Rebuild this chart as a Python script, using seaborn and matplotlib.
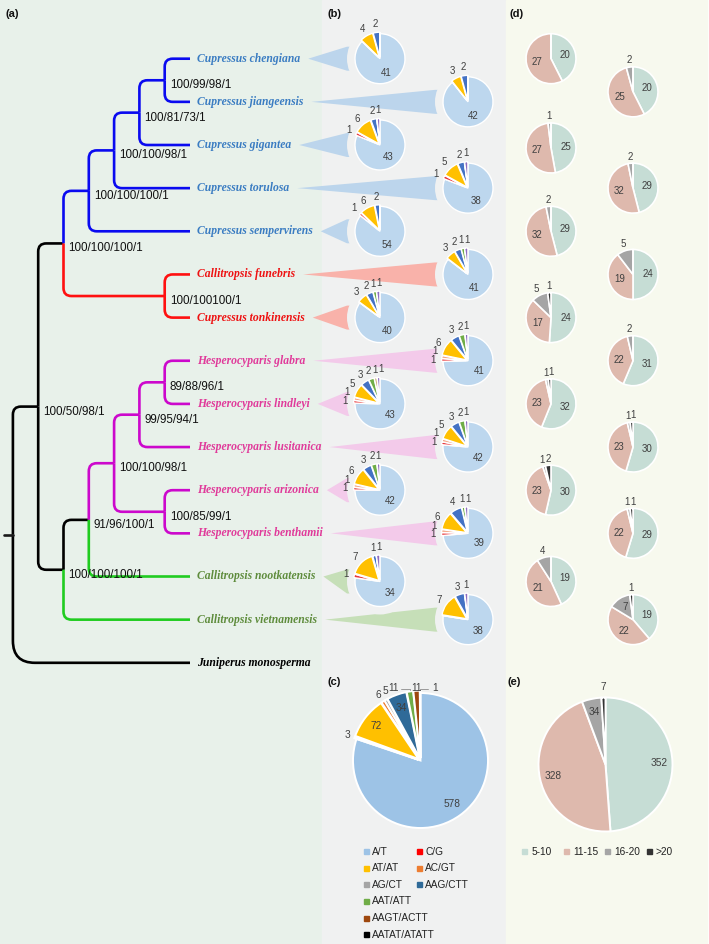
import numpy as np
import matplotlib
matplotlib.use("Agg")
import matplotlib.pyplot as plt
import seaborn as sns
from matplotlib.path import Path
from matplotlib.patches import PathPatch, Polygon, Circle, Rectangle

sns.set_theme(style="white")
plt.rcParams['font.family'] = ['Liberation Sans', 'DejaVu Sans']

# ---------------------------------------------------------------- data
species = ["Cupressus chengiana", "Cupressus jiangeensis", "Cupressus gigantea",
           "Cupressus torulosa", "Cupressus sempervirens", "Callitropsis funebris",
           "Cupressus tonkinensis", "Hesperocyparis glabra", "Hesperocyparis lindleyi",
           "Hesperocyparis lusitanica", "Hesperocyparis arizonica",
           "Hesperocyparis benthamii", "Callitropsis nootkatensis",
           "Callitropsis vietnamensis", "Juniperus monosperma"]
species_group = ["cup"] * 5 + ["red"] * 2 + ["hes"] * 5 + ["cal"] * 2 + ["k"]

# tree: (support, branch group, child, child); leaves are species names
tree = ("", "k",
        ("100/50/98/1", "k",
         ("100/100/100/1", "k",
          ("100/100/100/1", "cup",
           ("100/100/98/1", "cup",
            ("100/81/73/1", "cup",
             ("100/99/98/1", "cup", "Cupressus chengiana", "Cupressus jiangeensis"),
             "Cupressus gigantea"),
            "Cupressus torulosa"),
           "Cupressus sempervirens"),
          ("100/100100/1", "red", "Callitropsis funebris", "Cupressus tonkinensis")),
         ("100/100/100/1", "k",
          ("91/96/100/1", "k",
           ("100/100/98/1", "hes",
            ("99/95/94/1", "hes",
             ("89/88/96/1", "hes", "Hesperocyparis glabra", "Hesperocyparis lindleyi"),
             "Hesperocyparis lusitanica"),
            ("100/85/99/1", "hes", "Hesperocyparis arizonica", "Hesperocyparis benthamii")),
           "Callitropsis nootkatensis"),
          "Callitropsis vietnamensis")),
        "Juniperus monosperma")

# (b) SSR motif counts per species
motif_b = ["A/T", "C/G", "AC/GT", "AT/AT", "AAG/CTT", "AAT/ATT", "AAGT/ACTT", "AATAT/ATATT"]
ssr_AT = [41, 42, 43, 38, 54, 41, 40, 41, 43, 42, 42, 39, 34, 38]
ssr_CG = [0, 0, 1, 1, 1, 0, 0, 1, 1, 1, 1, 1, 1, 0]
ssr_ACGT = [0, 0, 0, 0, 0, 0, 0, 1, 1, 1, 1, 1, 0, 0]
ssr_ATAT = [4, 3, 6, 5, 6, 3, 3, 6, 5, 5, 6, 6, 7, 7]
ssr_AAG = [2, 2, 2, 2, 2, 2, 2, 3, 3, 3, 3, 4, 1, 3]
ssr_AAT = [0, 0, 0, 0, 0, 1, 1, 2, 2, 2, 2, 1, 0, 0]
ssr_AAGT = [0, 0, 0, 0, 0, 0, 0, 0, 1, 0, 0, 0, 0, 0]
ssr_AATAT = [0, 0, 1, 1, 0, 1, 1, 1, 1, 1, 1, 1, 1, 1]

# (c) totals
motif_c = ["A/T", "C/G", "AT/AT", "AC/GT", "AG/CT", "AAG/CTT", "AAT/ATT", "AAGT/ACTT", "AATAT/ATATT"]
total_c = [578, 3, 72, 6, 5, 34, 11, 11, 1]

# (d) length classes, pies in reading order (left, right, left, ...)
len_classes = ["5-10", "11-15", "16-20", ">20"]
len_5_10 = [20, 20, 25, 29, 29, 24, 24, 31, 32, 30, 30, 29, 19, 19]
len_11_15 = [27, 25, 27, 32, 32, 19, 17, 22, 23, 23, 23, 22, 21, 22]
len_16_20 = [0, 2, 1, 2, 2, 5, 5, 2, 1, 1, 1, 1, 4, 7]
len_gt20 = [0, 0, 0, 0, 0, 0, 1, 0, 1, 1, 2, 1, 0, 1]

# (e) totals
total_e = [352, 328, 34, 7]

# ---------------------------------------------------------------- style
W, H, DPI = 709, 944, 100
BG_A, BG_B, BG_D = "#E8F1EA", "#F0F1F1", "#F7F9EE"
branch_col = {"k": "#000000", "cup": "#0A0AF0", "red": "#FF1010", "hes": "#CC08CC", "cal": "#20CC20"}
text_col = {"k": "#000000", "cup": "#3A7CC2", "red": "#EE1111", "hes": "#E03A9A", "cal": "#5E8C3C"}
funnel_col = {"cup": "#BCD5EC", "red": "#F9B2AA", "hes": "#F3CAEA", "cal": "#C6DFB8"}
cols_b = ["#BDD7EE", "#E8383D", "#F4A582", "#FFC000", "#4472C4", "#70AD47", "#C9A66B", "#8E6CC0"]
cols_c = ["#9DC3E6", "#FF0000", "#FFC000", "#ED7D31", "#A5A5A5", "#2F6A98", "#70AD47", "#9E480E", "#000000"]
cols_d = ["#C6DDD5", "#DEB9AD", "#A5A5A5", "#333333"]
LBL = "#404040"
FS_PIE = 7.0
FS_BIG = 7.3

fig = plt.figure(figsize=(W / DPI, H / DPI), dpi=DPI)
ax = fig.add_axes([0, 0, 1, 1])
ax.set_xlim(0, W)
ax.set_ylim(H, 0)
ax.axis("off")

ax.add_patch(Rectangle((0, 0), 322, H, color=BG_A, zorder=0))
ax.add_patch(Rectangle((322, 0), 184, H, color=BG_B, zorder=0))
ax.add_patch(Rectangle((506, 0), 201, H, color=BG_D, zorder=0))

# ---------------------------------------------------------------- tree layout
LEAF_X, STEP, Y0, DY = 190.0, 25.3, 58.7, 43.15
leaf_y = {name: Y0 + i * DY for i, name in enumerate(species)}
leaf_grp = dict(zip(species, species_group))


def layout(node):
    if isinstance(node, str):
        return dict(x=LEAF_X, y=leaf_y[node], h=0, grp=leaf_grp[node], leaf=node, kids=[])
    sup, grp, a, b = node
    ka, kb = layout(a), layout(b)
    h = max(ka["h"], kb["h"]) + 1
    return dict(x=LEAF_X - h * STEP, y=(ka["y"] + kb["y"]) / 2, h=h, grp=grp,
                sup=sup, kids=[ka, kb], leaf=None)


root = layout(tree)
LW = 1.9


def draw(n):
    for k in n["kids"]:
        rad = 22 if k["leaf"] == "Juniperus monosperma" else 8
        dy = k["y"] - n["y"]
        r = min(rad, abs(dy), k["x"] - n["x"])
        s = np.sign(dy)
        verts = [(n["x"], n["y"]), (n["x"], k["y"] - s * r), (n["x"], k["y"]),
                 (n["x"] + r, k["y"]), (k["x"], k["y"])]
        codes = [Path.MOVETO, Path.LINETO, Path.CURVE3, Path.CURVE3, Path.LINETO]
        ax.add_patch(PathPatch(Path(verts, codes), fill=False, lw=LW,
                               edgecolor=branch_col[k["grp"]], capstyle="butt", zorder=3))
        draw(k)
    if n["leaf"] is None and n["sup"]:
        ax.text(n["x"] + 5, n["y"] + 5, n["sup"], fontsize=8.4, color="#111111",
                ha="left", va="center", zorder=4)


draw(root)
ax.plot([root["x"] - 9, root["x"]], [root["y"], root["y"]], color="k", lw=LW, zorder=3)

# leaf labels
fig.canvas.draw()
renderer = fig.canvas.get_renderer()
label_end = {}
for name in species:
    g = leaf_grp[name]
    t = ax.text(LEAF_X + 7, leaf_y[name], name, fontsize=8.4, family="Liberation Serif",
                style="italic", weight="bold", color=text_col[g], ha="left", va="center", zorder=4)
    bb = t.get_window_extent(renderer=renderer)
    label_end[name] = bb.x1


# ---------------------------------------------------------------- helpers
def pie_axes(cx, cy, r, pad=1.6):
    R = r * pad
    a = fig.add_axes([(cx - R) / W, 1 - (cy + R) / H, 2 * R / W, 2 * R / H])
    a.axis("off")
    a.patch.set_alpha(0)
    return a


def fix_limits(a, pad):
    a.set_xlim(-pad, pad)
    a.set_ylim(-pad, pad)
    a.set_aspect("equal")


def place_labels(a, wedges, vals, inside, rin, rout, fs, rpx, skip=()):
    fs_px = fs * DPI / 72.0
    placed = []
    for i, (w, v) in enumerate(zip(wedges, vals)):
        if v <= 0 or i in skip:
            continue
        th = (w.theta1 + w.theta2) / 2
        c0 = w.center
        s = str(v)
        if inside[i]:
            t = np.deg2rad(th)
            a.text(c0[0] + rin * np.cos(t), c0[1] + rin * np.sin(t), s, ha="center",
                   va="center", fontsize=fs, color=LBL)
            continue
        wv = 0.58 * fs_px * len(s) / rpx
        hv = 0.86 * fs_px / rpx
        x = y = 0
        for step in range(120):
            t = np.deg2rad(th - step)
            x, y = c0[0] + rout * np.cos(t), c0[1] + rout * np.sin(t)
            ok = all(abs(x - px) >= (wv + pw) / 2 or abs(y - py) >= (hv + ph) / 2
                     for px, py, pw, ph in placed)
            if ok:
                break
        placed.append((x, y, wv, hv))
        a.text(x, y, s, ha="center", va="center", fontsize=fs, color=LBL)


# ---------------------------------------------------------------- pies (b)
b_table = np.array([ssr_AT, ssr_CG, ssr_ACGT, ssr_ATAT, ssr_AAG, ssr_AAT, ssr_AAGT, ssr_AATAT]).T
PIE_R = 25.0
b_x = [380 if i % 2 == 0 else 468 for i in range(14)]
b_dy = [0] * 12 + [5, 0]

for i, name in enumerate(species[:14]):
    cx, cy = b_x[i], leaf_y[name] + b_dy[i]
    g = leaf_grp[name]
    tip = label_end[name] + 8
    hh = 12
    ax.add_patch(Polygon([(tip, leaf_y[name]), (cx - 33, cy - hh), (cx, cy - hh),
                          (cx, cy + hh), (cx - 33, cy + hh)], closed=True,
                         facecolor=funnel_col[g], edgecolor="none", zorder=1))
    ax.add_patch(Circle((cx, cy), 33, facecolor=BG_B, edgecolor="none", zorder=2))
    a = pie_axes(cx, cy, PIE_R, pad=1.7)
    vals = list(b_table[i])
    wedges, _ = a.pie(vals, colors=cols_b, startangle=90, counterclock=False,
                      explode=[0] + [0.06] * 7, radius=1,
                      wedgeprops=dict(edgecolor="white", linewidth=1.0))
    fix_limits(a, 1.7)
    place_labels(a, wedges, vals, [True] + [False] * 7, 0.6, 1.33, FS_PIE, PIE_R)

# ---------------------------------------------------------------- pies (d)
d_table = np.array([len_5_10, len_11_15, len_16_20, len_gt20]).T
d_x = [551 if i % 2 == 0 else 633 for i in range(14)]
d_dy = [0, -10, 3, 0, 0, 0, 0, 0, 0, 0, 0, 0, 5, 0]
for i in range(14):
    cx, cy = d_x[i], leaf_y[species[i]] + d_dy[i]
    a = pie_axes(cx, cy, PIE_R, pad=1.7)
    vals = list(d_table[i])
    wedges, _ = a.pie(vals, colors=cols_d, startangle=90, counterclock=False, radius=1,
                      wedgeprops=dict(edgecolor="white", linewidth=1.2))
    fix_limits(a, 1.7)
    tot = sum(vals)
    inside = [True, True] + [v / tot * 2 * np.pi * PIE_R > 19 for v in vals[2:]]
    place_labels(a, wedges, vals, inside, 0.58, 1.27, FS_PIE, PIE_R)

# ---------------------------------------------------------------- big pie (c)
BIG_R = 67.5
a = pie_axes(420.5, 760.5, BIG_R, pad=1.3)
wedges, _ = a.pie(total_c, colors=cols_c, startangle=90, counterclock=False, radius=1,
                  explode=[0] + [0.035] * 8,
                  wedgeprops=dict(edgecolor="white", linewidth=1.4))
fix_limits(a, 1.3)
tot = sum(total_c)
inside = [v / tot * 2 * np.pi * BIG_R > 19 for v in total_c]
place_labels(a, wedges, total_c, inside, 0.8, 1.12, FS_BIG, BIG_R, skip=(6, 7, 8))
# crowded small slices at the top: labels with leader lines
LY = 1.075
for i, dx_lab, side in [(6, -0.40, 1), (7, None, 0), (8, 0.22, -1)]:
    w, v = wedges[i], total_c[i]
    th = np.deg2rad((w.theta1 + w.theta2) / 2)
    sx, sy = w.center[0] + np.cos(th), w.center[1] + np.sin(th)
    xl = sx if dx_lab is None else dx_lab
    a.text(xl, LY, str(v), ha="center", va="center", fontsize=FS_BIG, color=LBL)
    if side != 0:
        x0 = xl + side * 0.11
        a.plot([x0, sx, sx], [LY - 0.02, LY - 0.02, sy + 0.015], color="#8C8C8C", lw=0.6)

# legend (c)
for i, (lab, col) in enumerate(zip(motif_c, cols_c)):
    row = i // 2 if i < 6 else i - 3
    colm = i % 2 if i < 6 else 0
    x = 366 + colm * 53
    y = 851.7 + row * 16.6
    ax.add_patch(Rectangle((x - 2.5, y - 2.5), 5, 5, color=col, zorder=5))
    ax.text(x + 6, y, lab, fontsize=FS_BIG, color="#222222", ha="left", va="center", zorder=5)

# ---------------------------------------------------------------- big pie (e)
a = pie_axes(605.5, 764.5, 67.0, pad=1.3)
wedges, _ = a.pie(total_e, colors=cols_d, startangle=90, counterclock=False, radius=1,
                  wedgeprops=dict(edgecolor="white", linewidth=1.4))
fix_limits(a, 1.3)
tot = sum(total_e)
inside = [v / tot * 2 * np.pi * 67 > 15 for v in total_e]
place_labels(a, wedges, total_e, inside, 0.8, 1.15, FS_BIG, 67.0)

for i, (lab, col) in enumerate(zip(len_classes, cols_d)):
    x = 524.5 + i * 41.5
    y = 851.7
    ax.add_patch(Rectangle((x - 2.5, y - 2.5), 5, 5, color=col, zorder=5))
    ax.text(x + 7, y, lab, fontsize=FS_BIG, color="#222222", ha="left", va="center", zorder=5)

# ---------------------------------------------------------------- panel labels
for lab, x, y in [("(a)", 6, 14), ("(b)", 328, 14), ("(d)", 510, 14),
                  ("(c)", 327, 682), ("(e)", 508, 682)]:
    ax.text(x, y, lab, fontsize=8, weight="bold", color="#111111", ha="left", va="center")

fig.savefig("out.png", dpi=DPI)
